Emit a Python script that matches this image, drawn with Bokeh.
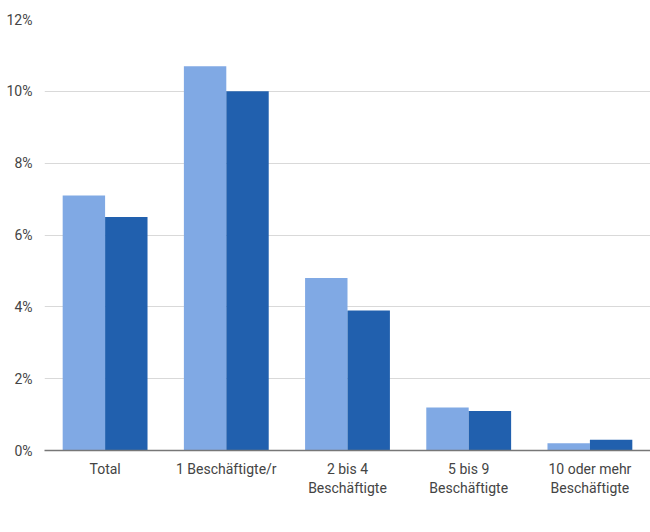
from bokeh.plotting import figure
from bokeh.models import (ColumnDataSource, Legend, LegendItem, PrintfTickFormatter,
                          FixedTicker, Range1d, CategoricalAxis, CustomJSTickFormatter)
from bokeh.transform import dodge
from bokeh.embed import file_html
from bokeh.resources import INLINE

categories = ["Total", "1 Beschäftigte/r", "2 bis 4 Beschäftigte", "5 bis 9 Beschäftigte", "10 oder mehr Beschäftigte"]
label_line1 = ["Total", "1 Beschäftigte/r", "2 bis 4", "5 bis 9", "10 oder mehr"]
label_line2 = ["", "", "Beschäftigte", "Beschäftigte", "Beschäftigte"]
neugruendung = [7.1, 10.7, 4.8, 1.2, 0.2]
schliessung = [6.5, 10.0, 3.9, 1.1, 0.3]
series_names = ["Neugründungsrate (2020)", "Schliessungsrate (2018)"]
y_ticks = [0, 2, 4, 6, 8, 10, 12]

src = ColumnDataSource(dict(cat=categories, a=neugruendung, b=schliessung))

p = figure(x_range=categories, width=650, height=532, frame_width=606, frame_height=431,
           output_backend="svg", toolbar_location=None, min_border_left=44,
           min_border_right=0, min_border_top=19, min_border_bottom=0,
           x_axis_location=None)
p.y_range = Range1d(0, 12)
p.x_range.range_padding = 0

light = "#80a9e4"
dark = "#2160ae"
r1 = p.vbar(x=dodge("cat", -0.175, range=p.x_range), top="a", width=0.35, source=src,
            color=light, line_color=None)
r2 = p.vbar(x=dodge("cat", 0.175, range=p.x_range), top="b", width=0.35, source=src,
            color=dark, line_color=None)

p.outline_line_color = None
p.background_fill_color = "white"
p.border_fill_color = "white"
p.xgrid.grid_line_color = None
p.ygrid.grid_line_color = "#d9d9d9"
p.ygrid.grid_line_width = 1

p.yaxis.ticker = FixedTicker(ticks=y_ticks)
p.yaxis.formatter = PrintfTickFormatter(format="%d%%")
p.yaxis.axis_line_color = None
p.yaxis.major_tick_line_color = None
p.yaxis.minor_tick_line_color = None
p.yaxis.major_label_text_font = "Roboto"
p.yaxis.major_label_text_font_size = "14px"
p.yaxis.major_label_text_color = "#444444"
p.yaxis.major_label_standoff = 6

def make_axis(labels, standoff, line):
    fmt = CustomJSTickFormatter(args=dict(cats=categories, labs=labels),
                                code="return labs[cats.indexOf(tick)];")
    ax = CategoricalAxis(formatter=fmt)
    ax.axis_line_color = "#777777" if line else None
    ax.axis_line_width = 1.5
    ax.major_tick_line_color = None
    ax.minor_tick_line_color = None
    ax.major_tick_out = 0
    ax.axis_label_standoff = 0
    ax.major_label_text_font = "Roboto"
    ax.major_label_text_font_size = "14px"
    ax.major_label_text_color = "#444444"
    ax.major_label_standoff = standoff
    return ax

ax1 = make_axis(label_line1, 10, True)
ax2 = make_axis(label_line2, 0, False)
p.add_layout(ax1, "below")
p.add_layout(ax2, "below")

legend = Legend(items=[LegendItem(label=series_names[0], renderers=[r1]),
                       LegendItem(label=series_names[1], renderers=[r2])],
                orientation="horizontal", location=(-37, 4),
                glyph_width=21, glyph_height=13, label_height=15,
                label_text_font="Roboto",
                label_text_font_size="14px", label_text_color="#444444",
                padding=0, margin=0, spacing=7, label_standoff=5,
                border_line_color=None, background_fill_alpha=0)
p.add_layout(legend, "below")

open("out.html", "w").write(file_html(p, INLINE))
